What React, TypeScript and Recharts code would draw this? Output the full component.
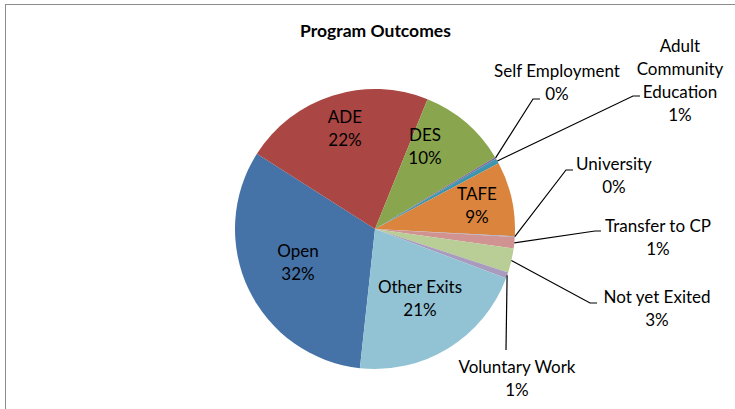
import React from "react";
import { PieChart, Pie, Cell } from "recharts";

const categories = [
  "Open",
  "ADE",
  "DES",
  "Self Employment",
  "Adult Community Education",
  "TAFE",
  "University",
  "Transfer to CP",
  "Not yet Exited",
  "Voluntary Work",
  "Other Exits",
];

// share of outcomes, percent
const outcomeShares = [32.3, 22.1, 10.3, 0.2, 0.6, 8.6, 0.1, 1.3, 2.8, 0.7, 21.0];

const sliceColors = [
  "#4572A7",
  "#AA4643",
  "#89A54E",
  "#80699B",
  "#3D96AE",
  "#DB843D",
  "#92A8CD",
  "#D19392",
  "#B9CD96",
  "#A99BBD",
  "#92C3D4",
];

const data = categories.map((name, i) => ({ name, value: outcomeShares[i] }));

const FONT = "Lato, 'Open Sans', sans-serif";

// label placement relative to the pie centre; leader = [elbow, end] for outside labels
type LabelSpot = {
  lines: string[];
  dx: number;
  dy: number;
  leader?: [number, number, number, number];
};

const labelLayout: Record<string, LabelSpot> = {
  Open: { lines: ["Open"], dx: -77, dy: 21 },
  ADE: { lines: ["ADE"], dx: -30, dy: -113 },
  DES: { lines: ["DES"], dx: 50, dy: -95 },
  TAFE: { lines: ["TAFE"], dx: 102, dy: -36 },
  "Other Exits": { lines: ["Other Exits"], dx: 45, dy: 57 },
  "Self Employment": { lines: ["Self Employment"], dx: 182, dy: -159, leader: [158, -130, 165, -130] },
  "Adult Community Education": {
    lines: ["Adult", "Community", "Education"],
    dx: 305,
    dy: -184,
    leader: [258, -133, 265, -133],
  },
  University: { lines: ["University"], dx: 239, dy: -66, leader: [191, -59, 198, -59] },
  "Transfer to CP": { lines: ["Transfer to CP"], dx: 283, dy: -4, leader: [220, 2, 226, 2] },
  "Not yet Exited": { lines: ["Not yet Exited"], dx: 282, dy: 67, leader: [215, 74, 222, 74] },
  "Voluntary Work": { lines: ["Voluntary Work"], dx: 142, dy: 137, leader: [131, 121, 131, 121] },
};

const RAD = Math.PI / 180;
const LINE_H = 23;

function renderLabel(props: any) {
  const { cx, cy, midAngle, outerRadius, name, value } = props;
  const spot = labelLayout[name];
  if (!spot) return null;
  const pct = `${Math.round(value)}%`;
  const rows = [...spot.lines, pct];
  const x = cx + spot.dx;
  const y0 = cy + spot.dy;
  let line = null;
  if (spot.leader) {
    const sx = cx + outerRadius * Math.cos(-midAngle * RAD);
    const sy = cy + outerRadius * Math.sin(-midAngle * RAD);
    const [ex, ey, tx, ty] = spot.leader;
    line = (
      <polyline
        points={`${sx},${sy} ${cx + ex},${cy + ey} ${cx + tx},${cy + ty}`}
        fill="none"
        stroke="#000"
        strokeWidth={1.2}
      />
    );
  }
  return (
    <g>
      {line}
      {rows.map((r, i) => (
        <text
          key={i}
          x={x}
          y={y0 + i * LINE_H}
          textAnchor="middle"
          dominantBaseline="central"
          fill="#000"
          fontSize={17}
          fontFamily={FONT}
        >
          {r}
        </text>
      ))}
    </g>
  );
}

export default function App() {
  return (
    <div
      style={{
        position: "absolute",
        left: 0,
        top: 0,
        width: 735,
        height: 409,
        overflow: "hidden",
        background: "#fff",
      }}
    >
      <div
        style={{
          position: "absolute",
          left: 5,
          top: 4,
          width: 760,
          height: 430,
          border: "1px solid #8c8c8c",
        }}
      />
      <div
        style={{
          position: "absolute",
          left: 0,
          top: 20,
          width: 751,
          textAlign: "center",
          fontFamily: FONT,
          fontWeight: 700,
          fontSize: 17.5,
          color: "#000",
        }}
      >
        Program Outcomes
      </div>
      <div style={{ position: "absolute", left: 0, top: 0 }}>
        <PieChart width={735} height={409} margin={{ top: 0, right: 0, bottom: 0, left: 0 }}>
          <Pie
            data={data}
            dataKey="value"
            nameKey="name"
            cx={375}
            cy={229}
            outerRadius={140}
            startAngle={263.8}
            endAngle={-96.2}
            stroke="none"
            label={renderLabel}
            labelLine={false}
            isAnimationActive={false}
          >
            {data.map((d, i) => (
              <Cell key={d.name} fill={sliceColors[i]} />
            ))}
          </Pie>
        </PieChart>
      </div>
    </div>
  );
}
